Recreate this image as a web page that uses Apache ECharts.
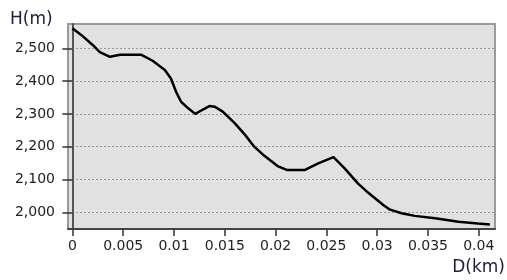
<!DOCTYPE html>
<html>
<head>
<meta charset="utf-8">
<script src="https://cdn.jsdelivr.net/npm/echarts@6/dist/echarts.min.js"></script>
<style>
  html, body { margin: 0; padding: 0; background: #fff; }
  #chart { width: 507px; height: 280px; }
</style>
</head>
<body>
<div id="chart"></div>
<script>
// 距离 (km) 与 高程 (m)
var distKm = [0, 0.0009, 0.002, 0.0027, 0.0037, 0.0047, 0.0068, 0.0079, 0.0091, 0.0097,
  0.0102, 0.0107, 0.0114, 0.0121, 0.0129, 0.0135, 0.014, 0.0148, 0.016, 0.017,
  0.0179, 0.0189, 0.0202, 0.0211, 0.0229, 0.0242, 0.0257, 0.0268, 0.0281, 0.0291,
  0.0306, 0.0312, 0.0324, 0.0337, 0.0357, 0.038, 0.0399, 0.0411];
var heightM = [2561, 2540, 2510, 2488, 2474, 2480, 2480, 2462, 2434, 2408,
  2368, 2337, 2317, 2300, 2314, 2324, 2322, 2307, 2271, 2236,
  2200, 2172, 2141, 2129, 2129, 2149, 2168, 2134, 2088, 2060,
  2022, 2009, 1997, 1989, 1982, 1971, 1966, 1963];
var xTicks = [0, 0.005, 0.01, 0.015, 0.02, 0.025, 0.03, 0.035, 0.04];
var yTicks = [2000, 2100, 2200, 2300, 2400, 2500];

var chart = echarts.init(document.getElementById("chart"));

var labelFont = { fontFamily: "DejaVu Sans", fontSize: 14, color: "#222" };

var option = {
  animation: false,
  title: [
    {
      text: "H(m)",
      left: 10, top: 11,
      textStyle: { fontFamily: "DejaVu Sans", fontSize: 17, fontWeight: "normal", color: "#1c1c3c" },
      padding: 0
    },
    {
      text: "D(km)",
      right: 2, top: 259,
      textStyle: { fontFamily: "DejaVu Sans", fontSize: 17, fontWeight: "normal", color: "#1c1c3c" },
      padding: 0
    }
  ],
  grid: {
    left: 68, right: 12, top: 24, bottom: 51,
    show: true,
    backgroundColor: "#e1e1e1",
    borderColor: "#9a9a9a",
    borderWidth: 2
  },
  xAxis: {
    type: "value",
    min: -0.00043,
    max: 0.0416,
    axisLine: { show: true, onZero: false, lineStyle: { color: "#444", width: 2 } },
    axisTick: { show: true, length: 7, customValues: xTicks, lineStyle: { color: "#333", width: 1.5 } },
    axisLabel: Object.assign({ margin: 10, customValues: xTicks, formatter: function (v) { return String(v); } }, labelFont),
    splitLine: { show: false }
  },
  yAxis: {
    type: "value",
    min: 1949,
    max: 2574,
    axisLine: { show: true, lineStyle: { color: "#555", width: 2 } },
    axisTick: { show: true, length: 10, customValues: yTicks, lineStyle: { color: "#333", width: 1.5 } },
    axisLabel: Object.assign({
      margin: 13,
      customValues: yTicks,
      formatter: function (v) { return v.toLocaleString("en-US"); }
    }, labelFont),
    splitLine: { show: true, lineStyle: { color: "#999", type: [2, 2], width: 1 } }
  },
  series: [
    {
      type: "line",
      data: distKm.map(function (d, i) { return [d, heightM[i]]; }),
      showSymbol: false,
      lineStyle: { color: "#000", width: 2.5 }
    }
  ]
};

chart.setOption(option);
</script>
</body>
</html>
